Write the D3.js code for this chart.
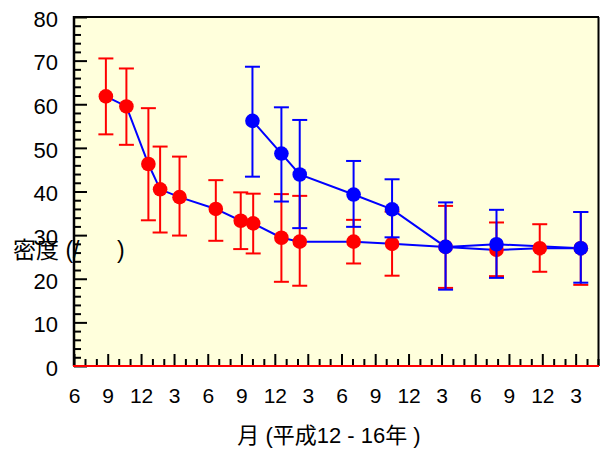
<!DOCTYPE html>
<html>
<head>
<meta charset="utf-8">
<script src="https://cdn.jsdelivr.net/npm/d3@7"></script>
<style>
  html, body { margin: 0; padding: 0; background: #ffffff; }
  svg { display: block; }
  text { font-family: "Liberation Sans", Arial, "Noto Sans CJK JP", sans-serif; fill: #000; }
</style>
</head>
<body>
<script>
// ---------------- data ----------------
const xStart = "2000-06-01";
const xEnd = "2004-05-01";
const yTicks = [0, 10, 20, 30, 40, 50, 60, 70, 80];

// red-marker series
const redDates = ["2000-08-27","2000-10-22","2000-12-21","2001-01-22","2001-03-16","2001-06-23",
                  "2001-08-30","2001-10-03","2001-12-19","2002-02-07","2002-07-04","2002-10-17",
                  "2003-03-12","2003-07-29","2003-11-24","2004-03-15"];
const redMean  = [61.8, 59.5, 46.3, 40.5, 38.7, 36.0, 33.3, 32.7, 29.4, 28.5, 28.5, 28.0, 27.3, 26.6, 27.0, 27.0];
const redUpper = [70.5, 68.2, 59.1, 50.3, 48.0, 42.6, 39.8, 39.5, 39.4, 39.0, 33.5, 35.4, 36.7, 32.9, 32.5, 35.3];
const redLower = [53.1, 50.7, 33.4, 30.6, 29.9, 28.7, 26.8, 25.8, 19.3, 18.4, 23.5, 20.7, 17.9, 20.6, 21.6, 18.6];

// blue-marker series
const blueDates = ["2001-10-01","2001-12-19","2002-02-07","2002-07-04","2002-10-17","2003-03-12",
                   "2003-07-29","2004-03-15"];
const blueMean  = [56.2, 48.7, 43.9, 39.3, 35.9, 27.3, 27.9, 27.0];
const blueUpper = [68.6, 59.3, 56.4, 47.0, 42.8, 37.5, 35.8, 35.3];
const blueLower = [43.4, 37.7, 31.6, 31.9, 29.5, 17.5, 20.2, 19.1];

const xTitle = "月 (平成12 - 16年 )";
const yTitle = "密度 (/";
const yTitleClose = ")";

// ---------------- layout ----------------
const W = 601, H = 449;
const L = 74, R = 598, T = 17, B = 366;
const parse = d3.timeParse("%Y-%m-%d");

const svg = d3.select("body").append("svg").attr("width", W).attr("height", H);

const x = d3.scaleTime().domain([parse(xStart), parse(xEnd)]).range([L, R]);
const y = d3.scaleLinear().domain([0, 80]).range([B, T]);

// plot background
svg.append("rect").attr("x", L).attr("y", T).attr("width", R - L).attr("height", B - T)
  .attr("fill", "#ffffdc");

// frame: top and right
svg.append("line").attr("x1", L).attr("x2", R + 1).attr("y1", T).attr("y2", T)
  .attr("stroke", "#000").attr("stroke-width", 2);
svg.append("line").attr("x1", R + 0.5).attr("x2", R + 0.5).attr("y1", T).attr("y2", B)
  .attr("stroke", "#000").attr("stroke-width", 2);

// ---- y axis ----
const yMinor = d3.range(0, 81, 2).filter(v => v % 10 !== 0);
const yAxisMinor = d3.axisLeft(y).tickValues(yMinor).tickSize(-7).tickFormat("");
const gyMinor = svg.append("g").attr("transform", `translate(${L},0)`).call(yAxisMinor);
const yAxis = d3.axisLeft(y).tickValues(yTicks).tickSize(-13).tickPadding(16).tickFormat(d3.format("d"));
const gy = svg.append("g").attr("transform", `translate(${L},0)`).call(yAxis);
[gy, gyMinor].forEach(g => {
  g.select(".domain").remove();
  g.selectAll(".tick line").attr("stroke", "#000").attr("stroke-width", 2);
});
gy.selectAll(".tick text").attr("font-size", 22).attr("dy", "0.42em")
  .attr("font-family", "'Liberation Sans', Arial, sans-serif");
svg.append("line").attr("x1", L).attr("x2", L).attr("y1", T - 1).attr("y2", B)
  .attr("stroke", "#000").attr("stroke-width", 2.5);

// ---- x axis ----
const allMonths = d3.timeMonth.range(parse(xStart), d3.timeDay.offset(parse(xEnd), 1));
const majorMonths = allMonths.filter(d => (d.getMonth() + 12 - 5) % 3 === 0);
const minorMonths = allMonths.filter(d => (d.getMonth() + 12 - 5) % 3 !== 0);
const xAxisMinor = d3.axisBottom(x).tickValues(minorMonths).tickSize(-7).tickFormat("");
const xAxis = d3.axisBottom(x).tickValues(majorMonths).tickSize(-12).tickPadding(22)
  .tickFormat(d3.timeFormat("%-m"));
const gxMinor = svg.append("g").attr("transform", `translate(0,${B})`).call(xAxisMinor);
const gx = svg.append("g").attr("transform", `translate(0,${B})`).call(xAxis);
[gx, gxMinor].forEach(g => {
  g.select(".domain").remove();
  g.selectAll(".tick line").attr("stroke", "#000").attr("stroke-width", 2);
});
gx.selectAll(".tick text").attr("font-size", 21)
  .attr("font-family", "'Liberation Sans', Arial, sans-serif");
// red baseline
svg.append("line").attr("x1", L - 1).attr("x2", R + 1).attr("y1", B).attr("y2", B)
  .attr("stroke", "#ff0000").attr("stroke-width", 2);

// ---- series ----
function mk(dates, mean, up, lo) {
  return dates.map((d, i) => ({ date: parse(d), v: mean[i], up: up[i], lo: lo[i] }));
}
const redData = mk(redDates, redMean, redUpper, redLower);
const blueData = mk(blueDates, blueMean, blueUpper, blueLower);

const line = d3.line().x(d => x(d.date)).y(d => y(d.v));
[redData, blueData].forEach(data => {
  svg.append("path").datum(data).attr("d", line)
    .attr("fill", "none").attr("stroke", "#0000ff").attr("stroke-width", 2);
});

function drawSeries(data, color) {
  const g = svg.append("g");
  const eb = g.selectAll("g.eb").data(data).join("g").attr("class", "eb")
    .attr("stroke", color).attr("stroke-width", 2);
  eb.append("line").attr("x1", d => x(d.date)).attr("x2", d => x(d.date))
    .attr("y1", d => y(d.up)).attr("y2", d => y(d.lo));
  eb.append("line").attr("x1", d => x(d.date) - 7.5).attr("x2", d => x(d.date) + 7.5)
    .attr("y1", d => y(d.up)).attr("y2", d => y(d.up));
  eb.append("line").attr("x1", d => x(d.date) - 7.5).attr("x2", d => x(d.date) + 7.5)
    .attr("y1", d => y(d.lo)).attr("y2", d => y(d.lo));
  g.selectAll("circle").data(data).join("circle")
    .attr("cx", d => x(d.date)).attr("cy", d => y(d.v)).attr("r", 7.3)
    .attr("fill", color);
}
drawSeries(redData, "#ff0000");
drawSeries(blueData, "#0000ff");

// ---- titles ----
svg.append("text").attr("x", 329).attr("y", 443).attr("text-anchor", "middle")
  .attr("font-size", 22).text(xTitle);
svg.append("text").attr("x", 13).attr("y", 258).attr("font-size", 23)
  .attr("font-family", "'Liberation Sans', 'Noto Sans CJK JP', sans-serif")
  .text(yTitle);
svg.append("text").attr("x", 117).attr("y", 258).attr("font-size", 23)
  .attr("font-family", "'Liberation Sans', sans-serif")
  .text(yTitleClose);
</script>
</body>
</html>
